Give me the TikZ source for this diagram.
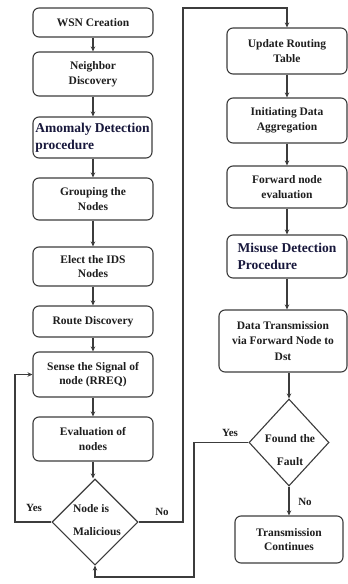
\documentclass[tikz,border=0pt]{standalone}
\usepackage{fontspec}
\setmainfont{Liberation Serif}
\usetikzlibrary{shapes.geometric,arrows.meta}
\definecolor{edge}{HTML}{3C3C3C}
\definecolor{ink}{HTML}{1E1E1E}
\definecolor{navy}{HTML}{18183C}
\begin{document}
\begin{tikzpicture}[x=1pt,y=-1pt,
  box/.style={draw=edge, line width=1.1pt, rounded corners=6pt, fill=white,
    text=ink, font=\fontsize{11.5}{14.5}\selectfont\bfseries, align=center,
    inner sep=2pt, minimum width=120pt},
  bigbox/.style={box, font=\fontsize{13.5}{16.5}\selectfont\bfseries,
    text=navy, align=left},
  decision/.style={draw=edge, line width=1.1pt, diamond, aspect=1,
    inner sep=0pt, fill=white},
  dtext/.style={text=ink, font=\fontsize{11.5}{23}\selectfont\bfseries},
  lbl/.style={text=ink, font=\fontsize{11}{13}\selectfont\bfseries},
  flow/.style={draw=edge, line width=1.1pt,
    -{Stealth[length=5pt,width=4.5pt]}}]
\useasboundingbox (0,0) rectangle (348,584);

% left column
\node[box, minimum height=29pt] (wsn) at (93,22.5) {WSN Creation};
\node[box, minimum height=44pt] (nbr) at (93,74) {Neighbor\\Discovery};
\node[bigbox, minimum height=41pt, minimum width=119pt] (anom) at (92.5,137.5) {Amomaly Detection\\procedure};
\node[box, minimum height=42pt] (grp) at (93,199) {Grouping the\\Nodes};
\node[box, minimum height=39pt] (ids) at (93,266.5) {Elect the IDS\\Nodes};
\node[box, minimum height=31pt] (rd) at (93,321.5) {Route Discovery};
\node[box, minimum height=45pt] (sense) at (93,374.5) {Sense the Signal of\\node (RREQ)};
\node[box, minimum height=44pt] (eval) at (93,439) {Evaluation of\\nodes};
\node[decision, minimum width=86pt, minimum height=86pt] (mal) at (95,522) {};
\node[dtext, align=left] (maltxt) at (97,520) {Node is\\Malicious};

% right column
\node[box, minimum height=46pt] (upd) at (287,51) {Update Routing\\Table};
\node[box, minimum height=45pt] (agg) at (287,120.5) {Initiating Data\\Aggregation};
\node[box, minimum height=42pt] (fwd) at (287,187) {Forward node\\evaluation};
\node[bigbox, minimum height=43pt] (mis) at (287,256.5) {Misuse Detection\\Procedure};
\node[box, minimum height=62pt, minimum width=128pt, font=\fontsize{11.5}{15.5}\selectfont\bfseries] (dtx) at (283,341) {Data Transmission\\via Forward Node to\\Dst};
\node[decision, minimum width=80pt, minimum height=87pt] (fault) at (289,442.5) {};
\node[dtext, align=center] (faulttxt) at (290,450) {Found the\\Fault};
\node[box, minimum height=47pt, minimum width=108pt] (cont) at (289,539.5) {Transmission\\Continues};

% turning points of the long connectors
\coordinate (yesL) at (15,522);
\coordinate (noL) at (183,522);
\coordinate (noTop) at (183,8);
\coordinate (yesR) at (194,442.5);
\coordinate (yesBot) at (194,577);

% straight flow
\draw[flow] (wsn) -- (nbr);
\draw[flow] (nbr.south) -- (nbr.south |- anom.north);
\draw[flow] (nbr.south |- anom.south) -- (grp);
\draw[flow] (grp) -- (ids);
\draw[flow] (ids) -- (rd);
\draw[flow] (rd) -- (sense);
\draw[flow] (sense) -- (eval);
\draw[flow] (eval.south) -- (eval.south |- mal.north);
\draw[flow] (upd) -- (agg);
\draw[flow] (agg) -- (fwd);
\draw[flow] (fwd) -- (mis);
\draw[flow] (mis.south) -- (mis.south |- dtx.north);
\draw[flow] (dtx.south -| fault.north) -- (fault.north);
\draw[flow] (fault) -- (cont);

% decision branches
\draw[flow] (mal.west) -- (yesL) |- (sense.west);
\draw[flow] (mal.east) -- (noL) -- (noTop) -| (upd.north);
\draw[flow] (fault.west) -- (yesR) -- (yesBot) -| (mal.south);

% branch labels
\node[lbl] (l1) at (34,508) {Yes};
\node[lbl] (l2) at (162,512) {No};
\node[lbl] (l3) at (230,433) {Yes};
\node[lbl] (l4) at (305,502) {No};
\end{tikzpicture}
\end{document}
